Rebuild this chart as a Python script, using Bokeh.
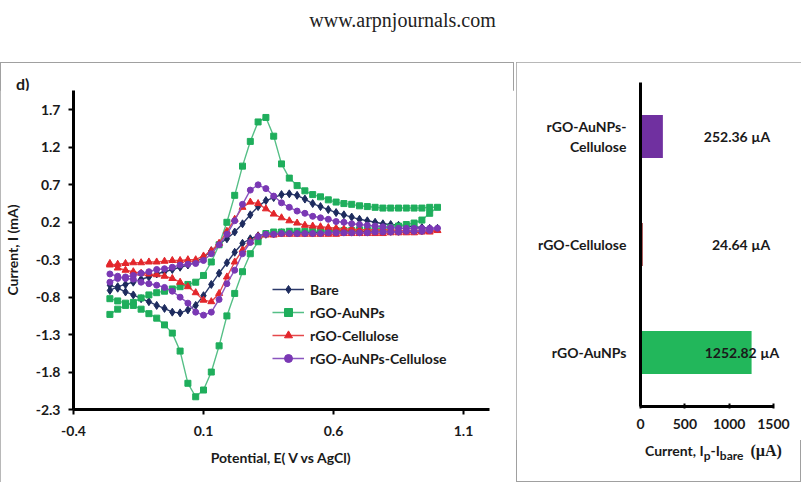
from bokeh.plotting import figure
from bokeh.models import (ColumnDataSource, FixedTicker, Legend, LegendItem,
                          NumeralTickFormatter, Range1d, Div)
from bokeh.layouts import column, row
from bokeh.embed import file_html
from bokeh.resources import INLINE
from bokeh.core.properties import value

HEADER = "www.arpnjournals.com"
PANEL_TAG = "d)"

# ---- Cyclic voltammograms: potential (V vs AgCl) and current (mA) ----
POTENTIAL_FWD = [-0.26, -0.23, -0.20, -0.17, -0.14, -0.11, -0.08, -0.05, -0.02, 0.01,
                 0.04, 0.07, 0.10, 0.13, 0.16, 0.19, 0.22, 0.25, 0.28, 0.31,
                 0.34, 0.37, 0.40, 0.43, 0.46, 0.49, 0.52, 0.55, 0.58, 0.61,
                 0.64, 0.67, 0.70, 0.73, 0.76, 0.79, 0.82, 0.85, 0.88, 0.91,
                 0.94, 0.97, 1.00]
POTENTIAL_REV = [0.97, 0.94, 0.91, 0.88, 0.85, 0.82, 0.79, 0.76, 0.73, 0.70,
                 0.67, 0.64, 0.61, 0.58, 0.55, 0.52, 0.49, 0.46, 0.43, 0.40,
                 0.37, 0.34, 0.31, 0.28, 0.25, 0.22, 0.19, 0.16, 0.13, 0.10,
                 0.07, 0.04, 0.01, -0.02, -0.05, -0.08, -0.11, -0.14, -0.17, -0.20,
                 -0.23, -0.26]

BARE_FWD = [-0.71, -0.66, -0.63, -0.60, -0.56, -0.53, -0.49, -0.46, -0.43, -0.40,
            -0.37, -0.33, -0.27, -0.18, -0.09, -0.02, 0.07, 0.18, 0.30, 0.41,
            0.49, 0.53, 0.57, 0.58, 0.56, 0.51, 0.45, 0.41, 0.37, 0.33,
            0.30, 0.27, 0.24, 0.22, 0.20, 0.18, 0.17, 0.16, 0.15, 0.14,
            0.13, 0.12, 0.12]
BARE_REV = [0.10, 0.09, 0.09, 0.09, 0.08, 0.08, 0.08, 0.08, 0.08, 0.07,
            0.07, 0.07, 0.07, 0.07, 0.07, 0.06, 0.06, 0.06, 0.06, 0.06,
            0.05, 0.04, 0.02, -0.02, -0.08, -0.20, -0.34, -0.48, -0.63, -0.78,
            -0.91, -0.97, -1.01, -1.00, -0.95, -0.91, -0.86, -0.82, -0.77, -0.73,
            -0.68, -0.64]

AUNP_FWD = [-1.03, -0.96, -0.91, -0.87, -0.81, -0.77, -0.74, -0.72, -0.69, -0.66,
            -0.63, -0.60, -0.51, -0.33, -0.10, 0.20, 0.56, 0.95, 1.28, 1.54,
            1.60, 1.35, 0.98, 0.79, 0.69, 0.62, 0.57, 0.54, 0.50, 0.47,
            0.45, 0.44, 0.42, 0.41, 0.40, 0.39, 0.39, 0.39, 0.39, 0.39,
            0.39, 0.40, 0.40]
AUNP_REV = [0.32, 0.23, 0.19, 0.17, 0.15, 0.13, 0.12, 0.11, 0.10, 0.10,
            0.09, 0.09, 0.09, 0.09, 0.08, 0.08, 0.08, 0.08, 0.08, 0.07,
            0.07, 0.05, -0.06, -0.22, -0.46, -0.75, -1.05, -1.45, -1.80, -2.04,
            -2.13, -1.95, -1.52, -1.28, -1.17, -1.08, -1.02, -0.96, -0.91, -0.88,
            -0.85, -0.82]

CELL_FWD = [-0.37, -0.36, -0.35, -0.34, -0.34, -0.33, -0.33, -0.32, -0.31, -0.31,
            -0.30, -0.30, -0.25, -0.18, -0.08, 0.08, 0.24, 0.40, 0.47, 0.45,
            0.38, 0.31, 0.26, 0.22, 0.19, 0.16, 0.15, 0.14, 0.13, 0.12,
            0.11, 0.11, 0.10, 0.10, 0.10, 0.10, 0.10, 0.09, 0.09, 0.09,
            0.09, 0.09, 0.09]
CELL_REV = [0.07, 0.07, 0.06, 0.06, 0.06, 0.06, 0.05, 0.05, 0.05, 0.05,
            0.05, 0.05, 0.04, 0.04, 0.04, 0.04, 0.04, 0.04, 0.04, 0.04,
            0.03, 0.03, 0.01, -0.06, -0.17, -0.33, -0.53, -0.75, -0.86, -0.84,
            -0.74, -0.66, -0.60, -0.55, -0.52, -0.50, -0.49, -0.48, -0.46, -0.44,
            -0.41, -0.35]

AUNP_CELL_FWD = [-0.60, -0.55, -0.53, -0.51, -0.48, -0.46, -0.43, -0.42, -0.40, -0.37,
                 -0.36, -0.35, -0.31, -0.22, -0.10, 0.04, 0.22, 0.44, 0.63, 0.70,
                 0.65, 0.55, 0.46, 0.40, 0.35, 0.32, 0.28, 0.26, 0.24, 0.21,
                 0.20, 0.18, 0.17, 0.16, 0.15, 0.14, 0.13, 0.12, 0.12, 0.12,
                 0.12, 0.12, 0.12]
AUNP_CELL_REV = [0.09, 0.08, 0.08, 0.08, 0.07, 0.07, 0.07, 0.07, 0.06, 0.06,
                 0.06, 0.06, 0.06, 0.06, 0.05, 0.05, 0.05, 0.05, 0.05, 0.05,
                 0.04, 0.04, 0.01, -0.07, -0.22, -0.44, -0.62, -0.83, -1.00, -1.04,
                 -1.00, -0.88, -0.80, -0.72, -0.67, -0.64, -0.62, -0.60, -0.56, -0.55,
                 -0.52, -0.49]

SERIES_NAMES = ["Bare", "rGO-AuNPs", "rGO-Cellulose", "rGO-AuNPs-Cellulose"]
X_TICKS = [-0.4, 0.1, 0.6, 1.1]
Y_TICKS = [-2.3, -1.8, -1.3, -0.8, -0.3, 0.2, 0.7, 1.2, 1.7]

# ---- Peak current difference relative to the bare electrode (µA), bottom to top ----
BAR_LABELS = ["rGO-AuNPs", "rGO-Cellulose", "rGO-AuNPs-Cellulose"]
BAR_VALUES = [1252.82, 24.64, 252.36]
BAR_TICKS = [0, 500, 1000, 1500]

FONT = "Lato"
INK = "#1a1a1a"
PANEL_STYLE = {"outline": "1px solid #a0a0a0", "outline-offset": "-1px"}


def style_axis(ax, size="14px"):
    ax.axis_line_color = "black"
    ax.axis_line_width = 3
    ax.major_tick_line_color = "black"
    ax.major_tick_line_width = 2
    ax.minor_tick_line_color = None
    ax.major_label_text_font = FONT
    ax.major_label_text_font_style = "bold"
    ax.major_label_text_font_size = size
    ax.major_label_text_color = INK
    ax.axis_label_text_font = FONT
    ax.axis_label_text_font_style = "bold"
    ax.axis_label_text_font_size = size
    ax.axis_label_text_color = INK


# ---------------- left panel: CV curves ----------------
tag = Div(text=(f'<div style="padding:14px 0 0 16px;line-height:16px;font-family:{FONT};'
                f'font-weight:bold;font-size:16px;color:{INK}">{PANEL_TAG}</div>'),
          width=514, height=28, margin=0)

p1 = figure(width=514, height=392, x_range=Range1d(-0.4, 1.2), y_range=Range1d(-2.3, 1.96),
            output_backend="svg", toolbar_location=None,
            min_border_left=71, min_border_right=25, min_border_top=0, min_border_bottom=73)
p1.grid.visible = False
p1.outline_line_color = None

style_axis(p1.xaxis[0])
style_axis(p1.yaxis[0])
p1.xaxis.ticker = FixedTicker(ticks=X_TICKS)
p1.yaxis.ticker = FixedTicker(ticks=Y_TICKS)
p1.xaxis.formatter = NumeralTickFormatter(format="0.0")
p1.yaxis.formatter = NumeralTickFormatter(format="0.0")
p1.xaxis.major_tick_out = 5
p1.xaxis.major_tick_in = 0
p1.yaxis.major_tick_out = 5
p1.yaxis.major_tick_in = 0
p1.xaxis.major_label_standoff = 11
p1.yaxis.major_label_standoff = 8
p1.xaxis.axis_label = "Potential, E( V vs AgCl)"
p1.yaxis.axis_label = "Current, I (mA)"
p1.xaxis.axis_label_standoff = 10
p1.yaxis.axis_label_standoff = 12

curves = [
    (BARE_FWD, BARE_REV, "#1d2b5e", "#2c3a6b", "diamond", 8),
    (AUNP_FWD, AUNP_REV, "#1fae5c", "#55bf86", "square", 6),
    (CELL_FWD, CELL_REV, "#e3262b", "#e5484b", "triangle", 7),
    (AUNP_CELL_FWD, AUNP_CELL_REV, "#7a38b4", "#8a55bf", "circle", 6),
]

items = []
for name, (fwd, rev, mcolor, lcolor, marker, size) in zip(SERIES_NAMES, curves):
    src = ColumnDataSource(dict(e=POTENTIAL_FWD + POTENTIAL_REV, i=fwd + rev))
    ln = p1.line("e", "i", source=src, line_color=lcolor, line_width=1.4)
    sc = p1.scatter("e", "i", source=src, marker=marker, size=size,
                    fill_color=mcolor, line_color=mcolor)
    items.append(LegendItem(label=name, renderers=[ln, sc]))

legend = Legend(items=items, location=(199, 41), padding=0, margin=0, spacing=3,
                glyph_width=32, glyph_height=20, label_height=20, label_standoff=6,
                border_line_color=None, background_fill_alpha=0,
                label_text_font=FONT, label_text_font_style="bold",
                label_text_font_size="14px", label_text_color=INK)
p1.add_layout(legend)

left_panel = column(tag, p1, spacing=0, styles=PANEL_STYLE)

# ---------------- right panel: peak current bars ----------------
n_bars = len(BAR_LABELS)
positions = [k + 0.5 for k in range(n_bars)]
p2 = figure(width=285, height=378, y_range=Range1d(0, n_bars),
            x_range=Range1d(0, 1703), output_backend="svg", toolbar_location=None,
            min_border_left=124, min_border_right=10, min_border_top=20, min_border_bottom=34)
p2.grid.visible = False
p2.outline_line_color = None

bar_src = ColumnDataSource(dict(
    pos=positions,
    val=BAR_VALUES,
    color=["#22b75b", "#8b1a1a", "#7030a0"],
    txt=[f"{v:.2f}  \u00b5A" for v in BAR_VALUES],
    lx=[BAR_TICKS[-1]] * n_bars,
    off=[9, 0, 0],
))
p2.hbar(y="pos", left=0, right="val", height=0.4, source=bar_src,
        fill_color="color", line_color=None)
p2.text(x="lx", y="pos", text="txt", x_offset="off", source=bar_src,
        text_font=value(FONT), text_font_style="bold", text_font_size="14px",
        text_color=INK, text_align="right", text_baseline="middle")

style_axis(p2.xaxis[0])
style_axis(p2.yaxis[0])
p2.xaxis.ticker = FixedTicker(ticks=BAR_TICKS)
p2.xaxis.bounds = (0, 1500)
p2.xaxis.major_tick_in = 3
p2.xaxis.major_tick_out = 2
p2.xaxis.major_label_standoff = 10
p2.yaxis.ticker = FixedTicker(ticks=positions)
p2.yaxis.major_tick_in = 0
p2.yaxis.major_tick_out = 0
p2.yaxis.major_label_standoff = 14
p2.yaxis.major_label_overrides = {
    pos: name.replace("-Cellulose", "-\nCellulose") if name.count("-") > 1 else name
    for pos, name in zip(positions, BAR_LABELS)
}

# axis title with subscripts, set under the bar chart
sub = 'style="font-size:12px"'
x_title = Div(
    text=(f'<div style="padding:2px 0 0 129px;line-height:18px;font-family:{FONT};'
          f'font-weight:bold;font-size:14px;color:{INK};white-space:nowrap">'
          f'Current, I<sub {sub}>p</sub>-I<sub {sub}>bare</sub>'
          f'<span style="font-family:\'Liberation Serif\';font-size:16px;margin-left:7px">'
          f'(\u00b5A)</span></div>'),
    width=285, height=42, margin=0)

right_panel = column(p2, x_title, spacing=0, styles=PANEL_STYLE)

header = Div(text=HEADER, width=805, height=62, margin=0,
             styles={"font-family": "Liberation Serif", "font-size": "20px",
                     "color": "#222", "text-align": "center", "padding-top": "6px",
                     "box-sizing": "border-box"})

layout = column(header, row(left_panel, right_panel, spacing=2), spacing=0)

open("out.html", "w").write(file_html(layout, INLINE))
